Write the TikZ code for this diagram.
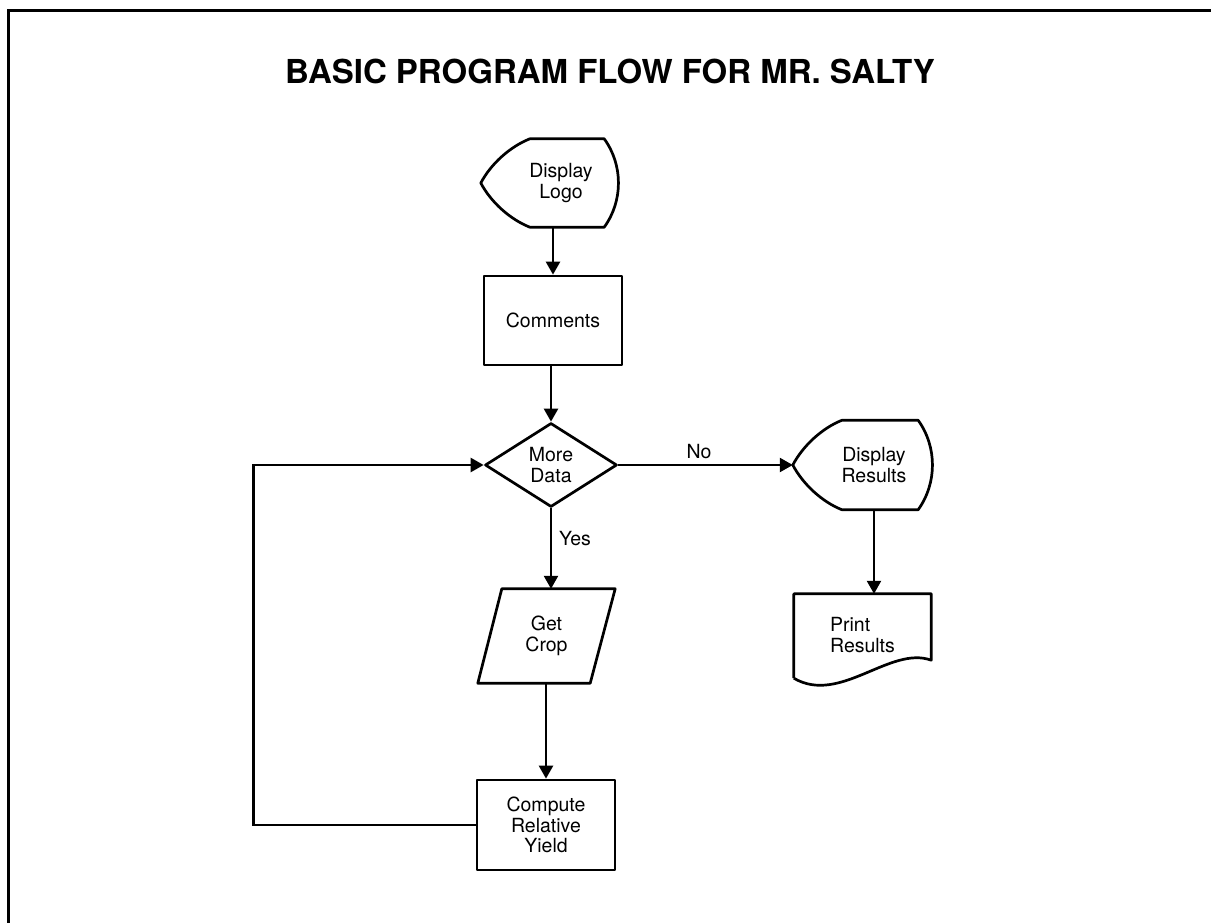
\documentclass[tikz,border=0pt]{standalone}
\usepackage{fontspec}
\setmainfont{TeX Gyre Heros}
\usetikzlibrary{shapes.geometric,arrows.meta,calc}

% outline of a display symbol round an (undrawn) node, pointed on the left
\newcommand{\dispoutline}[1]{%
  \coordinate (#1-tip) at ($(#1.west)+(-23,0)$);
  \draw[outline] (#1-tip)
    .. controls ($(#1.west)+(-13,-19)$) and ($(#1.north west)+(6,8)$) .. ($(#1.north west)+(26,0)$)
    -- ($(#1.north east)+(-14,0)$)
    .. controls ($(#1.east)+(5,-18)$) and ($(#1.east)+(5,18)$) .. ($(#1.south east)+(-14,0)$)
    -- ($(#1.south west)+(26,0)$)
    .. controls ($(#1.south west)+(6,-8)$) and ($(#1.west)+(-13,19)$) .. cycle;}

\tikzset{
  txt/.style={font=\fontsize{19.5}{20.5}\selectfont, align=center},
  outline/.style={line width=2.7pt, line join=round},
  box/.style={txt, draw, outline, minimum width=138pt, minimum height=89pt},
  body/.style={txt, minimum width=114pt, minimum height=88pt},
  dia/.style={txt, diamond, draw, outline, minimum width=132pt, minimum height=84pt, inner sep=0pt},
  conn/.style={-{Triangle[width=14pt,length=13pt]}, line width=2.4pt},
}

\begin{document}
\begin{tikzpicture}[x=1pt,y=-1pt]
    \useasboundingbox (0,0) rectangle (1211,923);
    % frame
    \draw[line width=3pt] (8.5,923) -- (8.5,11) -- (1211,11);
    \node[font=\bfseries\fontsize{33}{33}\selectfont] (title) at (610,71) {BASIC PROGRAM FLOW FOR MR. SALTY};

    % main column
    \node[body] (logo) at (561,183) {Display\\Logo};
    \dispoutline{logo}
    \node[box] (cmt) at (553,320.5) {Comments};
    \node[dia] (dec) at (551,465) {More\\Data};
    \node[txt, minimum width=113pt, minimum height=94pt] (crop) at (546.5,636) {Get\\Crop};
    \draw[outline] ($(crop.north west)+(12,0)$) -- ($(crop.north east)+(12,0)$)
        -- ($(crop.south east)+(-13,0)$) -- ($(crop.south west)+(-12,0)$) -- cycle;
    \node[box, minimum height=90pt] (cmp) at (546,825) {Compute\\Relative\\Yield};

    % right column
    \node[body, minimum width=116pt, minimum height=89pt] (res) at (874,465) {Display\\Results};
    \dispoutline{res}
    \node[txt, align=left, minimum width=137pt, minimum height=82pt] (prt) at (862.5,635) {Print\\Results};
    \draw[outline] ($(prt.south west)+(0,2)$) -- (prt.north west) -- (prt.north east)
        -- ($(prt.south east)+(0,-16)$)
        .. controls ($(prt.south east)+(-41,-31)$) and ($(prt.south west)+(46,29)$) .. ($(prt.south west)+(0,2)$);

    % connectors
    \draw[conn] (logo.south -| cmt.north) -- (cmt.north);
    \draw[conn] (cmt.south -| dec.north) -- (dec.north);
    \draw[conn] (dec.south) -- (dec.south |- crop.north);
    \draw[conn] (cmp.north |- crop.south) -- (cmp.north);
    \draw[conn] (cmp.west) -- ++(-222,0) |- (dec.west);
    \draw[conn] (dec.east) -- (res-tip);
    \draw[conn] (res.south) -- (res.south |- prt.north);
    \node[txt] (no) at (699,452) {No};
    \node[txt] (yes) at (575,539) {Yes};
\end{tikzpicture}
\end{document}
